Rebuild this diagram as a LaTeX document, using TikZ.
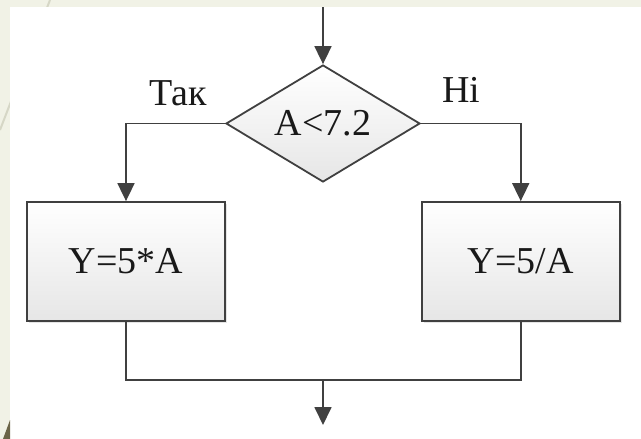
\documentclass[tikz,border=0pt]{standalone}
\usepackage{fontspec}
\setmainfont{Liberation Serif}
\usetikzlibrary{arrows.meta,shapes.geometric,shadows}
\definecolor{slidebg}{HTML}{F1F2E6}
\definecolor{linegray}{HTML}{404040}
\definecolor{boxbottom}{HTML}{E6E6E6}
\definecolor{decoline}{HTML}{D6D7C6}
\definecolor{decodark}{HTML}{6B6447}
\tikzset{
  txt/.style={font=\fontsize{38}{45}\selectfont, text=black!90},
  act/.style={txt, rectangle, draw=linegray, line width=1.8pt, top color=white, bottom color=boxbottom,
    minimum width=198pt, minimum height=119pt, inner sep=0pt,
    drop shadow={shadow xshift=2pt, shadow yshift=-2pt, opacity=0.2}},
  cond/.style={txt, diamond, draw=linegray, line width=1.8pt, top color=white, bottom color=boxbottom,
    minimum width=194pt, minimum height=117pt, inner sep=0pt, aspect=1.66},
  conn/.style={draw=linegray, line width=1.8pt},
  flow/.style={conn, -{Triangle[length=18pt,width=17pt]}},
}
\begin{document}
\begin{tikzpicture}[x=1pt,y=-1pt]
  %sfondo
  \useasboundingbox (0,0) rectangle (641,439);
  \fill[slidebg] (0,0) rectangle (641,439);
  \draw[decoline, line width=2pt] (50,0) -- (0,130);
  \fill[white] (10,7) rectangle (641,439);
  \fill[decodark] (10,420) -- (10,439) -- (3,439) -- cycle;
  %blocchi
  \node[cond] (cond) at (323,123.5) {A<7.2};
  \node[act] (yes) at (126,261.5) {Y=5*A};
  \node[act] (no) at (520.75,261.5) {Y=5/A};
  \coordinate (in) at (323,7);
  \coordinate (join) at (323,380);
  \coordinate (out) at (323,425);
  %etichette
  \node[txt] (yeslbl) at (178,93) {Так};
  \node[txt] (nolbl) at (461,90) {Ні};
  %frecce
  \draw[flow] (in) -- (cond);
  \draw[flow] (cond.west) -| (yes);
  \draw[flow] (cond.east) -| (no);
  \draw[conn] (yes.south) |- (join) -| (no.south);
  \draw[flow] (join) -- (out);
\end{tikzpicture}
\end{document}
